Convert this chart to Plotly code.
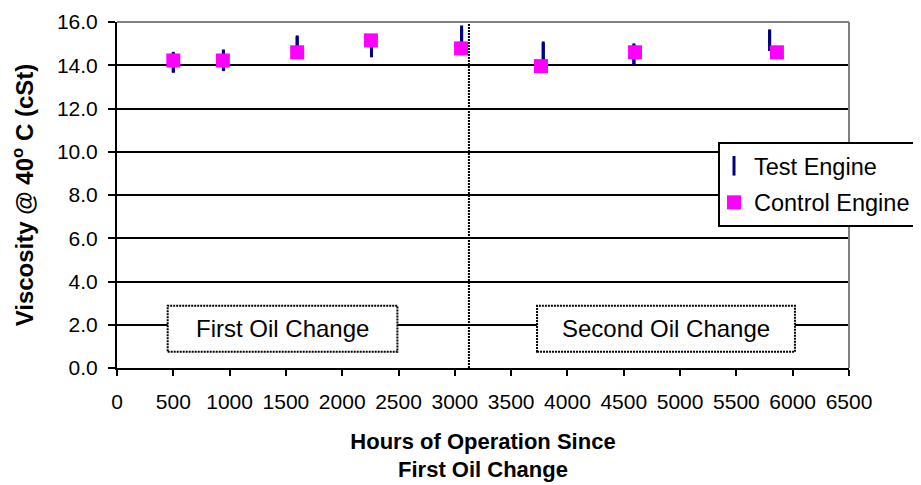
import plotly.graph_objects as go

# ---- data ----
hours_test = [500, 945, 1600, 2260, 3060, 3785, 4590, 5795]
test_low = [13.65, 13.73, 14.35, 14.49, 14.60, 14.05, 14.00, 14.66]
test_high = [14.62, 14.73, 15.38, 15.15, 15.84, 15.10, 15.01, 15.66]

hours_control = [500, 940, 1600, 2255, 3055, 3765, 4600, 5860]
control_visc = [14.22, 14.22, 14.60, 15.15, 14.78, 13.96, 14.60, 14.60]

oil_change_hours = 3125
period_labels = ["First Oil Change", "Second Oil Change"]
period_box_x = [(450, 2490), (3730, 6020)]
period_box_y = (0.75, 2.88)

x_ticks = list(range(0, 6501, 500))
y_ticks = [0, 2, 4, 6, 8, 10, 12, 14, 16]

FONT = "Arial, Liberation Sans, sans-serif"
NAVY = "#000080"
MAGENTA = "#FF00FF"

test_mid = [(a + b) / 2 for a, b in zip(test_low, test_high)]
err_plus = [h - m for h, m in zip(test_high, test_mid)]
err_minus = [m - l for m, l in zip(test_mid, test_low)]

fig = go.Figure()
fig.add_trace(go.Scatter(
    x=hours_test, y=test_mid, mode="markers", name="Test Engine",
    legendgroup="a",
    marker=dict(symbol="line-ns", size=14, color=NAVY,
                line=dict(color=NAVY, width=3)),
    error_y=dict(type="data", symmetric=False, array=err_plus,
                 arrayminus=err_minus, color=NAVY, thickness=3, width=0),
))
fig.add_trace(go.Scatter(
    x=hours_control, y=control_visc, mode="markers", name="Control Engine",
    legendgroup="b",
    marker=dict(symbol="square", size=14, color=MAGENTA, line=dict(width=0)),
))

# dotted separator
fig.add_shape(type="line", xref="x", yref="paper", x0=oil_change_hours,
              x1=oil_change_hours, y0=0, y1=1,
              line=dict(color="black", width=2, dash="2px,1px"))

# period boxes
for label, (bx0, bx1) in zip(period_labels, period_box_x):
    fig.add_shape(type="rect", xref="x", yref="y", x0=bx0, x1=bx1,
                  y0=period_box_y[0], y1=period_box_y[1],
                  fillcolor="white",
                  line=dict(color="black", width=2, dash="2px,1px"))
    fig.add_annotation(x=(bx0 + bx1) / 2, y=sum(period_box_y) / 2,
                       xref="x", yref="y", text=label, showarrow=False,
                       font=dict(family=FONT, size=24, color="black"))

# grey top & right borders
fig.add_shape(type="line", xref="paper", yref="paper", x0=0, x1=1, y0=1, y1=1,
              line=dict(color="#808080", width=2))
fig.add_shape(type="line", xref="paper", yref="paper", x0=1, x1=1, y0=0, y1=1,
              line=dict(color="#808080", width=2))

# page body has an 8px default margin, so the figure is sized to fit the window
fig.update_layout(
    width=913, height=477,
    margin=dict(l=109, r=72, t=14, b=117, autoexpand=False),
    paper_bgcolor="white", plot_bgcolor="white",
    font=dict(family=FONT, color="black", size=21),
    showlegend=True,
    legend=dict(
        x=(718 - 117) / 732, y=(368 - 142) / 346, xanchor="left", yanchor="top",
        bgcolor="white", bordercolor="black", borderwidth=2,
        font=dict(family=FONT, size=23.5, color="black"),
        traceorder="grouped", tracegroupgap=3, indentation=-6,
    ),
    xaxis=dict(
        range=[0, 6500], tickvals=x_ticks, ticktext=[str(v) for v in x_ticks],
        showgrid=False, zeroline=False, showline=True, linecolor="black",
        linewidth=2, ticks="outside", ticklen=6, tickwidth=2, tickcolor="black",
        tickfont=dict(family=FONT, size=21), ticklabelstandoff=8,
        automargin=False,
        title=dict(text="<b>Hours of Operation Since<br>First Oil Change</b>",
                   font=dict(family=FONT, size=22), standoff=21),
    ),
    yaxis=dict(
        range=[0, 16], tickvals=y_ticks, tickformat=".1f",
        showgrid=True, gridcolor="black", gridwidth=1.5,
        zeroline=False, showline=True, linecolor="black", linewidth=2,
        ticks="outside", ticklen=7, tickwidth=2, tickcolor="black",
        tickfont=dict(family=FONT, size=21), ticklabelstandoff=6,
        automargin=False,
        title=dict(text="<b>Viscosity @ 40<sup>o</sup> C (cSt)</b>",
                   font=dict(family=FONT, size=24), standoff=26),
    ),
)

fig.write_html("out.html")
